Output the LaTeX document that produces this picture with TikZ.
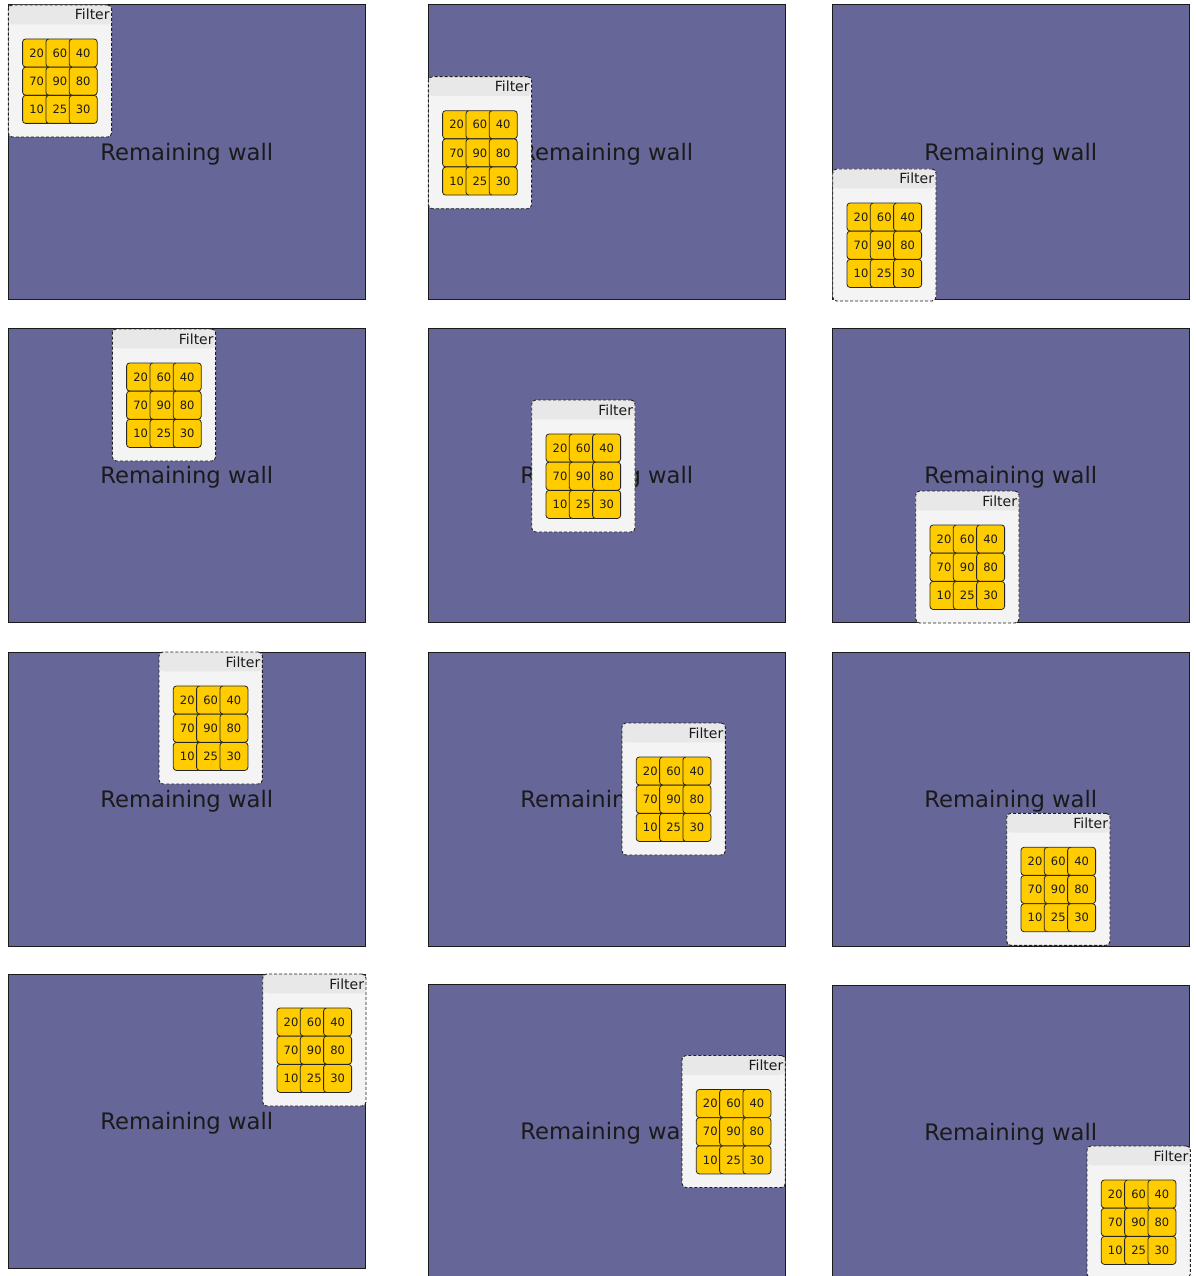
\documentclass[tikz,border=0pt]{standalone}
\usepackage{fontspec}
\setmainfont{DejaVu Sans}
\definecolor{wallc}{RGB}{102,102,153}
\definecolor{hdrc}{RGB}{232,232,232}
\definecolor{bodyc}{RGB}{244,244,244}
\definecolor{cellc}{RGB}{255,204,0}
\definecolor{inkc}{RGB}{26,26,26}
\tikzset{
  wall/.style={draw=inkc, line width=1pt, fill=wallc, minimum width=357.5pt,
    minimum height=294.3pt, inner sep=0pt, outer sep=0pt, anchor=north west},
  walltext/.style={font=\fontsize{22.7}{26}\selectfont, text=inkc, anchor=base, inner sep=0pt},
  filterbox/.style={draw=black!88, line width=0.9pt, dash pattern=on 3pt off 2pt,
    rounded corners=4pt, fill=bodyc, minimum width=103.3pt, minimum height=132pt,
    inner sep=0pt, outer sep=0pt, anchor=north west,
    path picture={\fill[hdrc] (path picture bounding box.north west) rectangle
      ([yshift=-19.3pt]path picture bounding box.north east);}},
  filterlabel/.style={font=\fontsize{14}{16}\selectfont, text=inkc, anchor=base east, inner sep=0pt},
  cellbox/.style={draw=black!85, line width=0.8pt, fill=cellc, rounded corners=3pt,
    minimum width=28pt, minimum height=28pt, inner sep=0pt, outer sep=0pt, anchor=north west,
    font=\fontsize{11.5}{13}\selectfont, text=inkc}
}
\begin{document}
\begin{tikzpicture}[x=1pt,y=-1pt]
\useasboundingbox (0,0) rectangle (1195,1276);
\clip (0,0) rectangle (1195,1276);
\foreach \i/\px/\py/\fx/\fy in {
  1/8/5/0.3/0, 2/428/5/0.3/71.7, 3/832/5/0.7/164,
  4/8/328.5/104.3/0.5, 5/428/328.5/103.7/71.5, 6/832/328.5/83.7/162.5,
  7/8/652/151/0, 8/428/652/194/71, 9/832/652/174.7/161.3,
  10/8/974/254.7/0, 11/428/984.5/254/71, 12/832/985/255/161} {
  \node[wall] (w\i) at (\px,\py) {};
  \node[walltext] (t\i) at ([yshift=-8.3pt]w\i.center) {Remaining wall};
  \node[filterbox] (f\i) at (\px+\fx,\py+\fy) {};
  \node[filterlabel] (l\i) at ([xshift=-1.8pt,yshift=-15pt]f\i.north east) {Filter};
  \foreach \r/\a/\b/\c in {0/20/60/40,1/70/90/80,2/10/25/30} {
    \node[cellbox] (c\i-\r-0) at ([xshift=14.3pt,yshift={-34pt-28.2pt*\r}]f\i.north west) {\a};
    \node[cellbox] (c\i-\r-1) at ([xshift=37.6pt,yshift={-34pt-28.2pt*\r}]f\i.north west) {\b};
    \node[cellbox] (c\i-\r-2) at ([xshift=60.9pt,yshift={-34pt-28.2pt*\r}]f\i.north west) {\c};
  }
}
\end{tikzpicture}
\end{document}
